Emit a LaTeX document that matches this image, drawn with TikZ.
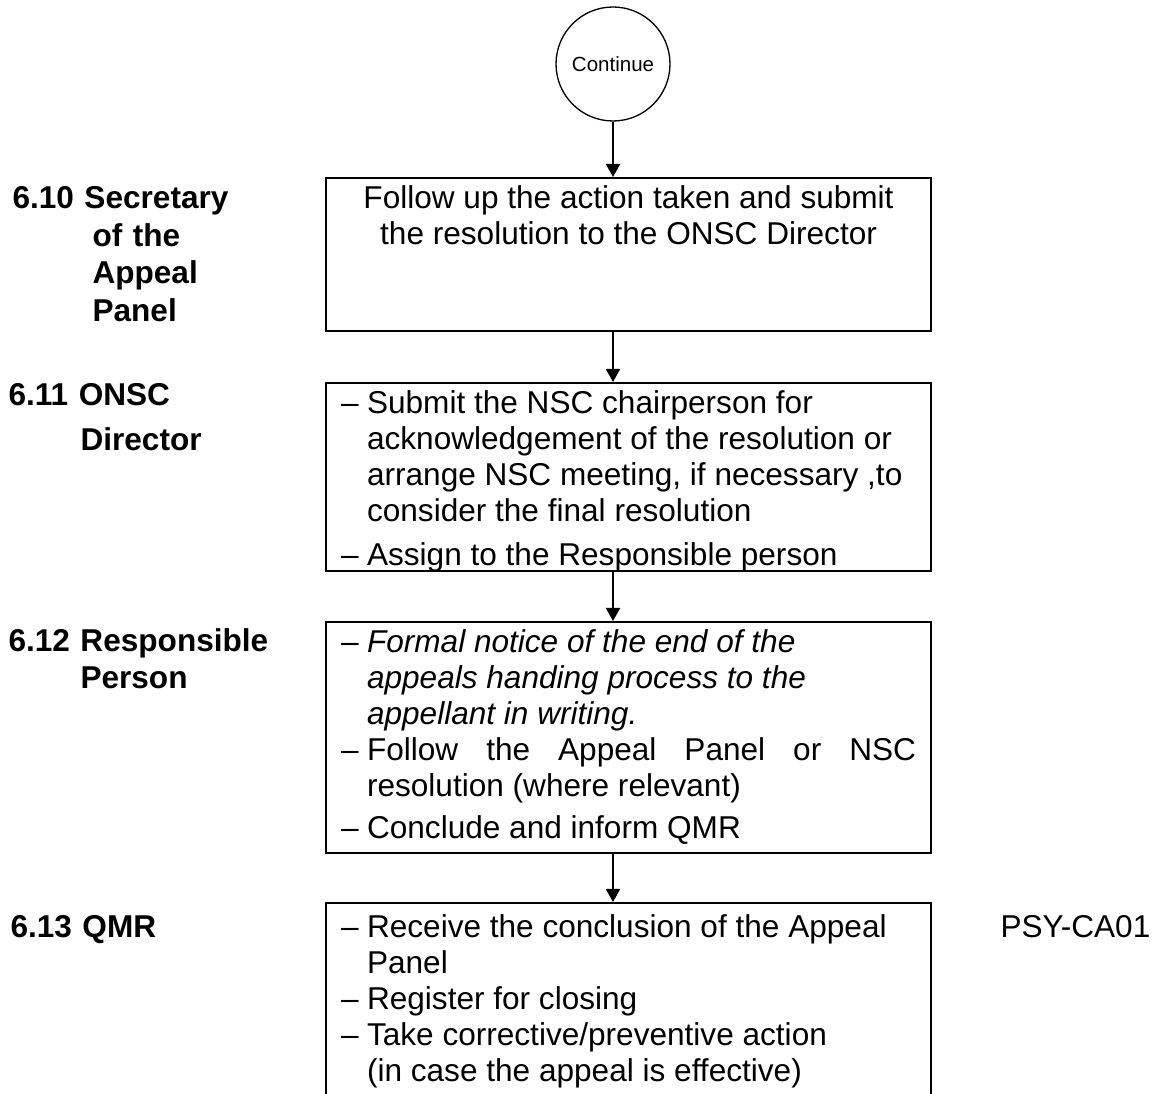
\documentclass[tikz,border=0pt]{standalone}
\usepackage{fontspec}
\setmainfont{Liberation Sans}
\usetikzlibrary{arrows.meta,positioning}
\newdimen\px \px=0.38pt
\newcommand{\stepitem}[1]{\par\hangindent=26\px\hangafter=1\noindent\makebox[26\px][l]{--}#1}

\begin{document}
\begin{tikzpicture}[x=0.38pt, y=-0.38pt,
    every node/.style={font=\fontsize{12}{13.68}\selectfont},
    stepbox/.style={draw, line width=0.8pt, inner sep=0pt, anchor=north west, minimum width=605*\px},
    role/.style={font=\bfseries\fontsize{12}{14.25}\selectfont, anchor=base west, inner sep=0pt, text width=300*\px, align=left},
    flow/.style={line width=0.75pt, -{Triangle[width=5.4pt,length=5pt]}},
  ]
    \useasboundingbox (0,0) rectangle (1156,1093);

    \node[draw, circle, line width=0.5pt, minimum size=114*\px, inner sep=0pt, font=\fontsize{7.8}{9}\selectfont] (cont) at (613,64) {Continue};

    \node[stepbox, minimum height=153*\px] (s10) at (325,177) {\parbox[c][153\px][t]{575\px}{\centering\rule{0pt}{30\px}Follow up the action taken and submit\\the resolution to the ONSC Director}};

    \node[stepbox, minimum height=188*\px] (s11) at (325,382) {\parbox[c][188\px][t]{575\px}{%
      \stepitem{\rule{0pt}{30\px}Submit the NSC chairperson for\\acknowledgement of the resolution or\\arrange NSC meeting, if necessary ,to\\consider the final resolution}
      \vspace{8\px}\stepitem{Assign to the Responsible person}}};

    \node[stepbox, minimum height=231*\px] (s12) at (325,621) {\parbox[c][231\px][t]{575\px}{%
      \stepitem{\rule{0pt}{30\px}{\itshape Formal notice of the end of the\\appeals handing process to the\\appellant in writing.}}
      \stepitem{Follow\hfill the\hfill Appeal\hfill Panel\hfill or\hfill NSC\\resolution (where relevant)}
      \vspace{6\px}\stepitem{Conclude and inform QMR}}};

    \node[stepbox, minimum height=210*\px] (s13) at (325,902) {\parbox[c][210\px][t]{575\px}{%
      \stepitem{\rule{0pt}{34\px}Receive the conclusion of the Appeal\\Panel}
      \stepitem{Register for closing}
      \stepitem{Take corrective/preventive action\\(in case the appeal is effective)}}};

    \node[role] (r10) at (12,209) {6.10 Secretary\\\hspace*{80\px}of the\\\hspace*{80\px}Appeal\\\hspace*{80\px}Panel};
    \node[role] (r11) at (8,406) {6.11 ONSC\\[2.5pt]\hspace*{72\px}Director};
    \node[role] (r12) at (8,651) {6.12 Responsible\\\hspace*{72\px}Person};
    \node[role] (r13) at (10,937) {6.13 QMR};
    \node[anchor=base west, inner sep=0pt] (code) at (1000,937) {PSY-CA01};

    \draw[flow] (cont) -- (cont |- s10.north);
    \draw[flow] (s10.south -| cont) -- (s11.north -| cont);
    \draw[flow] (s11.south -| cont) -- (s12.north -| cont);
    \draw[flow] (s12.south -| cont) -- (s13.north -| cont);

  \end{tikzpicture}
\end{document}
